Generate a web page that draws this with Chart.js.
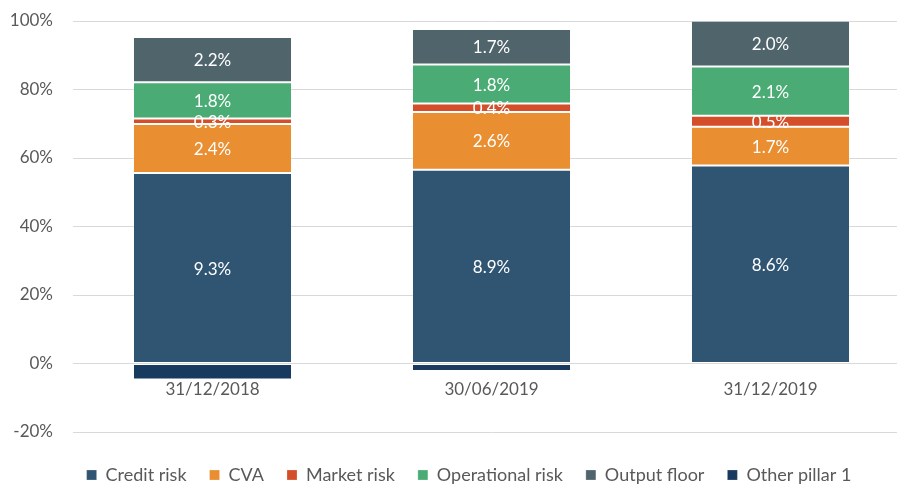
<!DOCTYPE html>
<html>
<head>
<meta charset="utf-8">
<script src="https://cdn.jsdelivr.net/npm/chart.js@4.4.0/dist/chart.umd.min.js"></script>
<style>
  html, body { margin: 0; padding: 0; overflow: hidden; background: #fff; }
  #wrap { width: 910px; height: 485px; position: relative; }
</style>
</head>
<body>
<div id="wrap"><canvas id="chart"></canvas></div>
<script>
const CATEGORIES = ['31/12/2018', '30/06/2019', '31/12/2019'];

// bar heights (share of total, %)
const CREDIT_RISK = [55.6, 56.6, 57.8];
const CVA = [14.3, 16.8, 11.3];
const MARKET_RISK = [1.6, 2.5, 3.2];
const OPERATIONAL_RISK = [10.6, 11.4, 14.4];
const OUTPUT_FLOOR = [13.2, 10.4, 13.4];
const OTHER_PILLAR_1 = [-4.7, -2.2, 0];

// printed labels inside the segments
const CREDIT_RISK_LABELS = ['9.3%', '8.9%', '8.6%'];
const CVA_LABELS = ['2.4%', '2.6%', '1.7%'];
const MARKET_RISK_LABELS = ['0.3%', '0.4%', '0.5%'];
const OPERATIONAL_RISK_LABELS = ['1.8%', '1.8%', '2.1%'];
const OUTPUT_FLOOR_LABELS = ['2.2%', '1.7%', '2.0%'];

const Y_MIN = -20, Y_MAX = 100, Y_STEP = 20;

const FONT = "Lato, 'Open Sans', sans-serif";
const TEXT = '#595959';

function makeSet(label, data, color, labels) {
    return {
        label: label,
        data: data,
        backgroundColor: color,
        borderColor: 'rgba(255,255,255,0.22)',
        borderWidth: 1,
        borderSkipped: false,
        barPercentage: 0.57,
        categoryPercentage: 1,
        segLabels: labels
    };
}

// draws the white numbers in the middle of each segment
const segmentLabels = {
    id: 'segmentLabels',
    afterDatasetsDraw(chart) {
        const ctx = chart.ctx;
        ctx.save();
        ctx.fillStyle = '#ffffff';
        ctx.font = '17px ' + FONT;
        ctx.textAlign = 'center';
        ctx.textBaseline = 'middle';
        chart.data.datasets.forEach((ds, i) => {
            if (!ds.segLabels) return;
            chart.getDatasetMeta(i).data.forEach((bar, j) => {
                const p = bar.getCenterPoint();
                ctx.fillText(ds.segLabels[j], p.x, p.y + 1);
            });
        });
        ctx.restore();
    }
};

// move the legend a bit right and down like the original
const legendShift = {
    id: 'legendShift',
    afterLayout(chart) {
        const lg = chart.legend;
        if (!lg) return;
        lg.left += 28;
        lg.top += 11;
        lg.bottom += 11;
    }
};

new Chart(document.getElementById('chart'), {
    type: 'bar',
    data: {
        labels: CATEGORIES,
        datasets: [
            makeSet('Credit risk', CREDIT_RISK, '#2F5572', CREDIT_RISK_LABELS),
            makeSet('CVA', CVA, '#E98E31', CVA_LABELS),
            makeSet('Market risk', MARKET_RISK, '#D44E2A', MARKET_RISK_LABELS),
            makeSet('Operational risk', OPERATIONAL_RISK, '#4AAC74', OPERATIONAL_RISK_LABELS),
            makeSet('Output floor', OUTPUT_FLOOR, '#50646C', OUTPUT_FLOOR_LABELS),
            makeSet('Other pillar 1', OTHER_PILLAR_1, '#173A5E', null)
        ]
    },
    options: {
        responsive: true,
        maintainAspectRatio: false,
        animation: false,
        layout: { padding: { top: 21, left: 0, right: 0, bottom: 2 } },
        scales: {
            x: {
                stacked: true,
                position: { y: 0 },
                z: 1,
                grid: { display: false },
                border: { display: false },
                ticks: {
                    color: TEXT,
                    font: { family: FONT, size: 17 },
                    padding: 8,
                    showLabelBackdrop: true,
                    backdropColor: '#ffffff',
                    backdropPadding: { x: 1, y: 3 }
                }
            },
            y: {
                stacked: true,
                min: Y_MIN,
                max: Y_MAX,
                grid: { color: '#d9d9d9', lineWidth: 1, drawTicks: false },
                border: { display: false },
                afterFit(scale) {
                    scale.width = 73;
                    scale.paddingTop = 0;
                    scale.paddingBottom = 0;
                },
                ticks: {
                    stepSize: Y_STEP,
                    padding: 20,
                    color: TEXT,
                    font: { family: FONT, size: 17 },
                    callback: v => v + '%'
                }
            }
        },
        plugins: {
            legend: {
                position: 'bottom',
                labels: {
                    color: TEXT,
                    font: { family: FONT, size: 18 },
                    boxWidth: 10,
                    boxHeight: 10,
                    padding: 23
                }
            },
            tooltip: { enabled: false }
        }
    },
    plugins: [segmentLabels, legendShift]
});
</script>
</body>
</html>
